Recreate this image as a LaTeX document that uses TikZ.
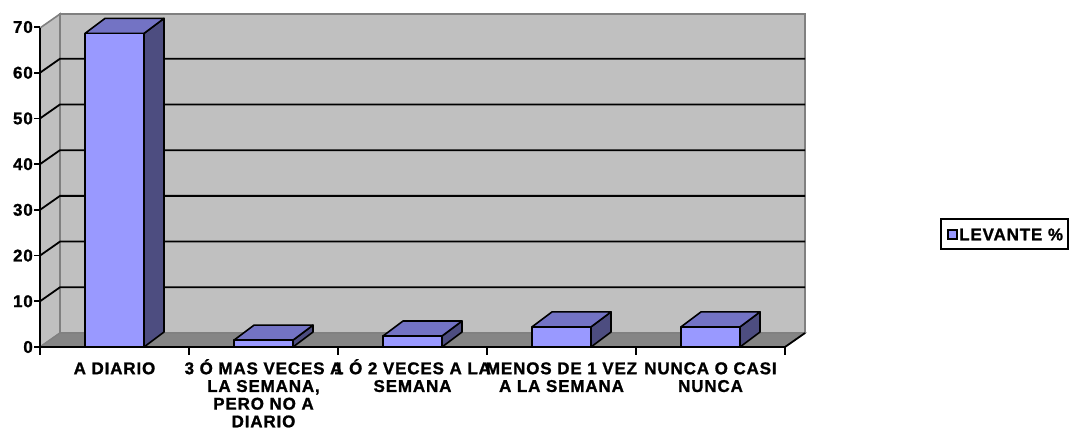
\documentclass[tikz,border=0pt]{standalone}
\usepackage{fontspec}
\setmainfont{Liberation Sans}[LetterSpace=5]
\newfontfamily\chartfont{Liberation Sans Bold}[LetterSpace=5, FakeBold=1.2]
\definecolor{wallgray}{HTML}{C0C0C0}
\definecolor{floorgray}{HTML}{858585}
\definecolor{edgegray}{HTML}{808080}
\definecolor{barfront}{HTML}{9999FF}
\definecolor{barside}{HTML}{4D4D80}
\definecolor{bartop}{HTML}{7373C4}
\begin{document}
\begin{tikzpicture}[x=1pt,y=-1pt,
  lab/.style={font=\fontsize{17}{17.7}\chartfont, inner sep=0pt},
  wall/.style={fill=wallgray, draw=edgegray, line width=1.6pt},
  floorface/.style={fill=floorgray, draw=edgegray, line width=1.2pt},
  gridline/.style={draw=black, line width=1.8pt},
  axisline/.style={draw=black, line width=1.8pt},
  barface/.style={draw=black, line width=1.6pt, line join=round},
]
\useasboundingbox (0,0) rectangle (1070,447);
\fill[white] (0,0) rectangle (1070,447);
% walls and floor
\draw[wall] (40,28) -- (60,14) -- (60,333) -- (40,347) -- cycle;
\draw[wall] (60,14) rectangle (805,333);
\draw[floorface] (40,347) -- (60,333) -- (805,333) -- (785,347) -- cycle;
% gridlines
\foreach \v in {10,20,...,60} {
  \draw[gridline] (40,{347-\v*4.571}) -- (60,{333-\v*4.571}) -- (805,{333-\v*4.571});
}
% bars: left x, value
\foreach \x/\val in {85/68.6, 234/1.5, 383/2.4, 532/4.4, 681/4.4} {
  \pgfmathsetmacro{\t}{347-\val*4.571}
  \draw[barface, fill=barside] (\x+59,347) -- (\x+79,332) -- (\x+79,\t-15) -- (\x+59,\t) -- cycle;
  \draw[barface, fill=bartop] (\x,\t) -- (\x+20,\t-15) -- (\x+79,\t-15) -- (\x+59,\t) -- cycle;
  \draw[barface, fill=barfront] (\x,347) rectangle (\x+59,\t);
}
% axes
\draw[axisline] (40,28) -- (40,347) -- (785,347) -- (805,333);
\foreach \v in {0,10,...,70} {
  \draw[axisline] (34,{347-\v*4.571}) -- (40,{347-\v*4.571});
  \node[lab, anchor=east] (yl\v) at (33,{347-\v*4.571}) {\v};
}
\foreach \x in {40,189,338,487,636,785} {
  \draw[axisline] (\x,347) -- (\x,355);
}
% category labels
\node[lab, anchor=north, align=center] (c1) at (114.5,357) {\rule{0pt}{17pt}A DIARIO};
\node[lab, anchor=north, align=center] (c2) at (263.5,357) {\rule{0pt}{17pt}3 Ó MAS VECES A\\LA SEMANA,\\PERO NO A\\DIARIO};
\node[lab, anchor=north, align=center] (c3) at (412.5,357) {\rule{0pt}{17pt}1 Ó 2 VECES A LA\\SEMANA};
\node[lab, anchor=north, align=center] (c4) at (561.5,357) {\rule{0pt}{17pt}MENOS DE 1 VEZ\\A LA SEMANA};
\node[lab, anchor=north, align=center] (c5) at (710.5,357) {\rule{0pt}{17pt}NUNCA O CASI\\NUNCA};
% legend
\draw[black, line width=1.6pt, fill=white] (941,219) rectangle (1068,249);
\draw[black, line width=1.2pt, fill=barfront] (948,230) rectangle (957,239);
\node[lab, anchor=west] (leg) at (959,234.5) {LEVANTE \%};
\end{tikzpicture}
\end{document}
